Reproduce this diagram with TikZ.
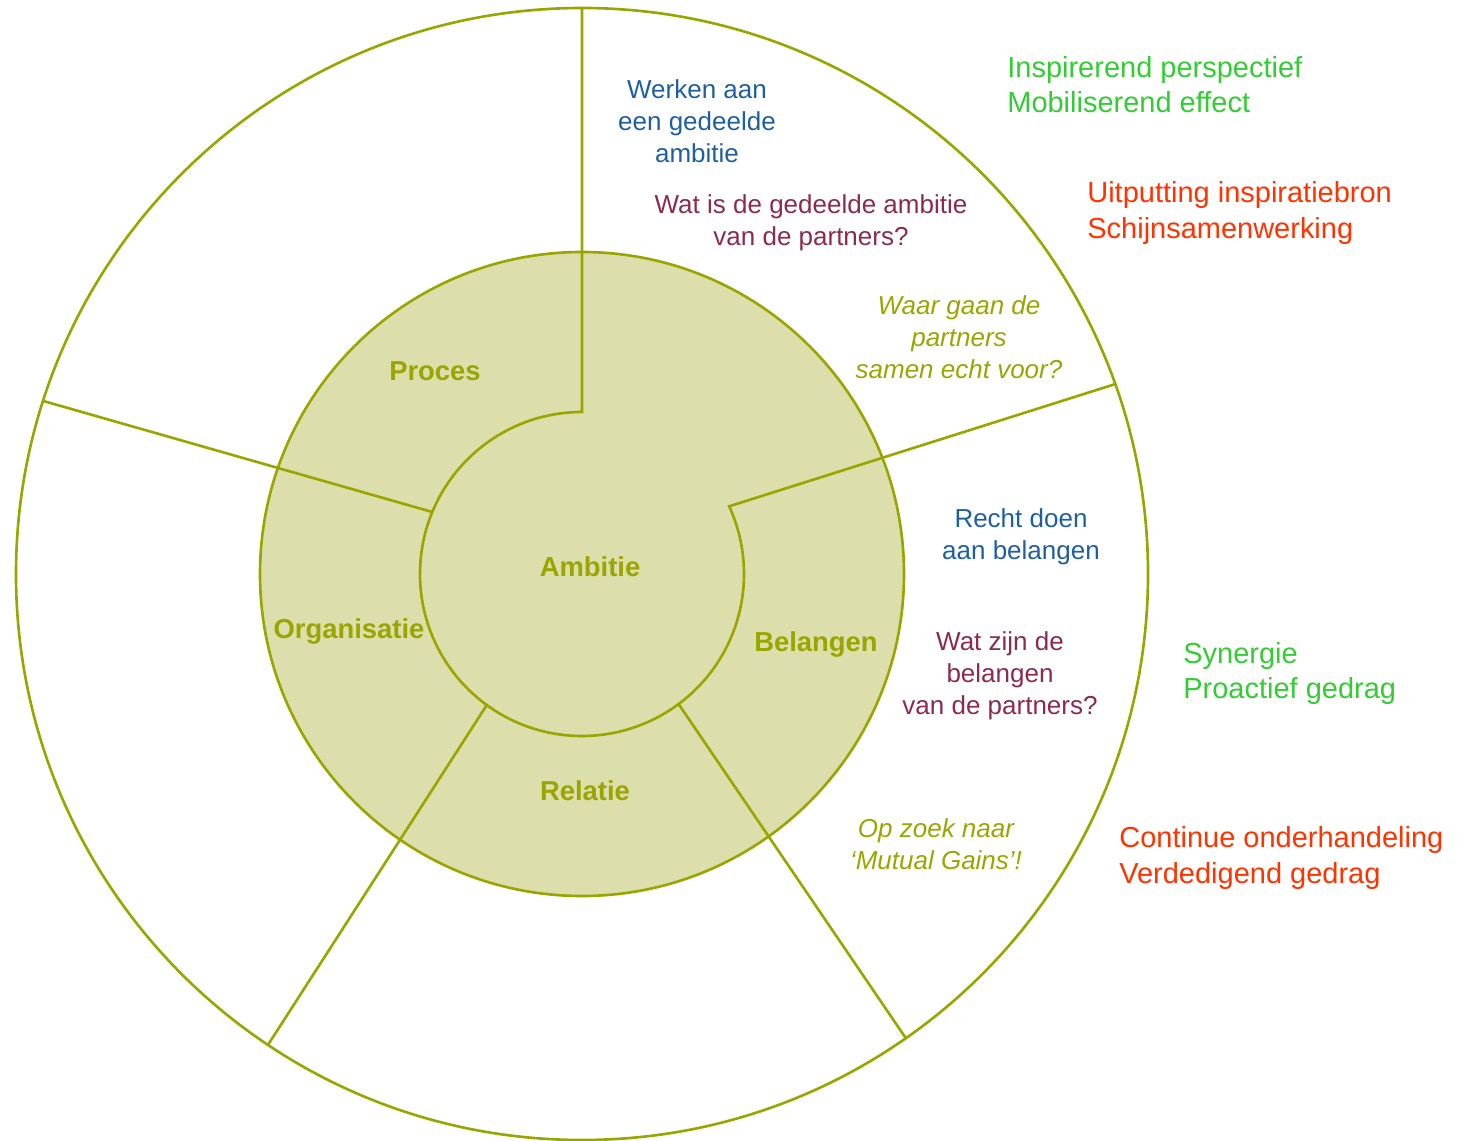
\documentclass[tikz,border=0pt]{standalone}
\usepackage{fontspec}
\setmainfont{Liberation Sans}
\usetikzlibrary{calc}
\definecolor{oliveline}{HTML}{9AA600}
\definecolor{olivefill}{HTML}{DCDEAC}
\definecolor{tgreen}{HTML}{33CC33}
\definecolor{tred}{HTML}{FF3300}
\definecolor{tblue}{HTML}{1F5FA0}
\definecolor{tmaroon}{HTML}{8C2A4F}
\tikzset{
  ring/.style={draw=oliveline, line width=1.5pt},
  seclabel/.style={text=oliveline, font=\fontsize{15.6}{18}\selectfont\bfseries},
  bluetxt/.style={text=tblue, align=center, font=\fontsize{14.8}{18.2}\selectfont},
  marotxt/.style={text=tmaroon, align=center, font=\fontsize{14.8}{18.2}\selectfont},
  olivetxt/.style={text=oliveline, align=center, font=\fontsize{14.8}{18.2}\selectfont\itshape},
  greentxt/.style={text=tgreen, align=left, anchor=west, inner sep=0pt, font=\fontsize{16.5}{20}\selectfont},
  redtxt/.style={text=tred, align=left, anchor=west, inner sep=0pt, font=\fontsize{16.5}{20.5}\selectfont},
}
\begin{document}
\begin{tikzpicture}[x=0.02cm,y=0.02cm]
\useasboundingbox (0,0) rectangle (1464,1140);
\coordinate (C) at (582,566);
% rings
\fill[olivefill] (C) circle[radius=322];
\draw[ring] (C) circle[radius=566];
\draw[ring] (C) circle[radius=322];
% inner boundary with notch for Ambitie
\coordinate (top) at ($(C)+(90:566)$);
\coordinate (itop) at ($(C)+(90:162)$);
\coordinate (ir) at ($(C)+(24.7:162)$);
\coordinate (or) at ($(C)+(19.6:567)$);
\draw[ring] (top) -- (itop) arc[start angle=90, end angle=384.7, radius=162] -- (or);
% other dividers
\coordinate (il) at ($(C)+(157.5:162)$);
\coordinate (ol) at ($(C)+(162.2:567)$);
\coordinate (ibl) at ($(C)+(234:162)$);
\coordinate (obl) at ($(C)+(236.3:566)$);
\coordinate (ibr) at ($(C)+(306.6:162)$);
\coordinate (obr) at ($(C)+(304.9:566)$);
\draw[ring] (il) -- (ol);
\draw[ring] (ibl) -- (obl);
\draw[ring] (ibr) -- (obr);
% section labels
\node[seclabel] (proces) at (435,769) {Proces};
\node[seclabel] (ambitie) at (590,573) {Ambitie};
\node[seclabel] (organisatie) at (349,509) {Organisatie};
\node[seclabel] (belangen) at (816,496) {Belangen};
\node[seclabel] (relatie) at (585,349) {Relatie};
% texts
\node[bluetxt] (werken) at (697,1019) {Werken aan\\een gedeelde\\ambitie};
\node[marotxt] (watamb) at (811,917.5) {Wat is de gedeelde ambitie\\van de partners?};
\node[olivetxt] (waar) at (959,803) {Waar gaan de\\partners\\samen echt voor?};
\node[greentxt] (insp) at (1007,1055) {Inspirerend perspectief\\Mobiliserend effect};
\node[redtxt] (uitp) at (1087,927) {Uitputting inspiratiebron\\Schijnsamenwerking};
\node[bluetxt] (recht) at (1021,603) {Recht doen\\aan belangen};
\node[marotxt] (watbel) at (1000,464) {Wat zijn de\\belangen\\van de partners?};
\node[greentxt] (syn) at (1183,466.5) {Synergie\\Proactief gedrag};
\node[olivetxt] (opzoek) at (936,296) {Op zoek naar\\‘Mutual Gains’!};
\node[redtxt] (cont) at (1119,282) {Continue onderhandeling\\Verdedigend gedrag};
\end{tikzpicture}
\end{document}
